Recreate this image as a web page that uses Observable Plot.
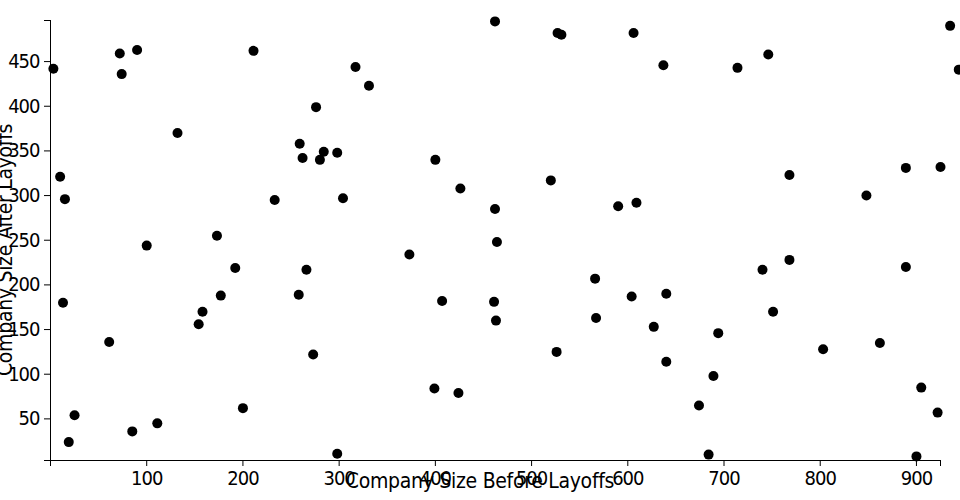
<!DOCTYPE html>
<html>
<head>
<meta charset="utf-8">
<script src="https://cdn.jsdelivr.net/npm/d3@7"></script>
<script src="https://cdn.jsdelivr.net/npm/@observablehq/plot@0.6"></script>
<style>
  html, body { margin: 0; padding: 0; background: #fff; }
  #chart svg { display: block; }
</style>
</head>
<body>
<div id="chart"></div>
<script>
// Company size before layoffs (x) and after layoffs (y), paired by index
const sizeBefore = [3, 10, 15, 72, 74, 90, 132, 173, 211, 233, 259, 262, 276, 280, 284, 298, 304, 317, 331, 400,
  426, 462, 462, 520, 527, 531, 590, 606, 609, 637, 714, 746, 768, 848, 889, 925, 935, 944, 100, 192,
  266, 13, 177, 258, 158, 154, 61, 273, 200, 25, 111, 85, 19, 298, 373, 464, 566, 407, 461, 604,
  463, 567, 627, 526, 399, 424, 640, 640, 694, 689, 674, 684, 740, 768, 751, 803, 862, 889, 905, 922, 900];
const sizeAfter = [442, 321, 296, 459, 436, 463, 370, 255, 462, 295, 358, 342, 399, 340, 349, 348, 297, 444, 423, 340,
  308, 495, 285, 317, 482, 480, 288, 482, 292, 446, 443, 458, 323, 300, 331, 332, 490, 441, 244, 219,
  217, 180, 188, 189, 170, 156, 136, 122, 62, 54, 45, 36, 24, 11, 234, 248, 207, 182, 181, 187,
  160, 163, 153, 125, 84, 79, 190, 114, 146, 98, 65, 10, 217, 228, 170, 128, 135, 220, 85, 57, 8];

const xTicks = [100, 200, 300, 400, 500, 600, 700, 800, 900];
const yTicks = [50, 100, 150, 200, 250, 300, 350, 400, 450];
const xDomain = [0, 925];
const yDomain = [3.4, 496];
const xLabel = "Company Size Before Layoffs";
const yLabel = "Company Size After Layoffs";

const data = sizeBefore.map((b, i) => ({before: b, after: sizeAfter[i]}));

const W = 960, H = 500;
const FONT = "'DejaVu Sans Condensed', 'Liberation Sans Narrow', sans-serif";

const chart = Plot.plot({
  width: W,
  height: H,
  marginLeft: 50,
  marginRight: 20,
  marginTop: 20,
  marginBottom: 40,
  style: {fontFamily: FONT, fontSize: "20px", letterSpacing: "-1px", color: "#000", background: "#fff", overflow: "visible"},
  x: {domain: xDomain, label: null},
  y: {domain: yDomain, label: null},
  marks: [
    Plot.axisX(xTicks, {tickSize: 6, tickPadding: 4, label: null, tickFormat: d => String(d)}),
    Plot.axisX(xDomain, {tickSize: 6, tickFormat: () => "", label: null}),
    Plot.axisY(yTicks, {tickSize: 6, tickPadding: 5, label: null, tickFormat: d => String(d)}),
    Plot.axisY(yDomain, {tickSize: 6, tickFormat: () => "", label: null}),
    Plot.ruleY([yDomain[0]], {stroke: "#000"}),
    Plot.ruleX([xDomain[0]], {stroke: "#000"}),
    Plot.dot(data, {x: "before", y: "after", r: 5, fill: "#000", stroke: "none"})
  ]
});

document.getElementById("chart").appendChild(chart);

// axis titles centered on the whole svg
const svg = d3.select(chart);
svg.append("text")
  .attr("x", W / 2)
  .attr("y", 488)
  .attr("text-anchor", "middle")
  .attr("font-family", FONT)
  .attr("font-size", 21)
  .attr("letter-spacing", "-0.3px")
  .attr("fill", "#000")
  .text(xLabel);
svg.append("text")
  .attr("transform", `translate(12, ${H / 2}) rotate(-90)`)
  .attr("text-anchor", "middle")
  .attr("font-family", FONT)
  .attr("font-size", 21)
  .attr("letter-spacing", "-0.3px")
  .attr("fill", "#000")
  .text(yLabel);
</script>
</body>
</html>
